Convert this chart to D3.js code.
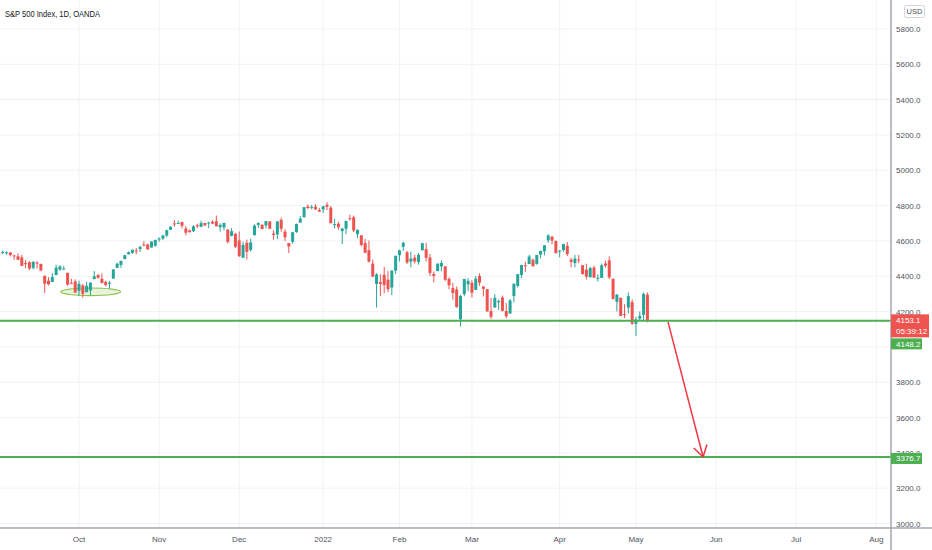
<!doctype html>
<html>

<head>
    <meta charset="UTF-8">
    <title>S&P 500 Index, 1D, OANDA</title>
    <script src="https://d3js.org/d3.v7.min.js"></script>
    <style>
        body {
            margin: 0;
            background: #fff;
        }

        svg {
            display: block;
            font-family: "Liberation Sans", Arial, sans-serif;
        }
    </style>
</head>

<body>
    <svg width="932" height="550"></svg>

    <script>
        // trading days, Sep 2021 - May 2022
        var dates = [
            "2021-09-01", "2021-09-02", "2021-09-03", "2021-09-07", "2021-09-08", "2021-09-09", "2021-09-10", "2021-09-13", "2021-09-14", "2021-09-15", "2021-09-16", "2021-09-17", "2021-09-20", "2021-09-21", "2021-09-22", "2021-09-23", "2021-09-24", "2021-09-27", "2021-09-28", "2021-09-29", "2021-09-30",
            "2021-10-01", "2021-10-04", "2021-10-05", "2021-10-06", "2021-10-07", "2021-10-08", "2021-10-11", "2021-10-12", "2021-10-13", "2021-10-14", "2021-10-15", "2021-10-18", "2021-10-19", "2021-10-20", "2021-10-21", "2021-10-22", "2021-10-25", "2021-10-26", "2021-10-27", "2021-10-28", "2021-10-29",
            "2021-11-01", "2021-11-02", "2021-11-03", "2021-11-04", "2021-11-05", "2021-11-08", "2021-11-09", "2021-11-10", "2021-11-11", "2021-11-12", "2021-11-15", "2021-11-16", "2021-11-17", "2021-11-18", "2021-11-19", "2021-11-22", "2021-11-23", "2021-11-24", "2021-11-26", "2021-11-29", "2021-11-30",
            "2021-12-01", "2021-12-02", "2021-12-03", "2021-12-06", "2021-12-07", "2021-12-08", "2021-12-09", "2021-12-10", "2021-12-13", "2021-12-14", "2021-12-15", "2021-12-16", "2021-12-17", "2021-12-20", "2021-12-21", "2021-12-22", "2021-12-23", "2021-12-27", "2021-12-28", "2021-12-29", "2021-12-30", "2021-12-31",
            "2022-01-03", "2022-01-04", "2022-01-05", "2022-01-06", "2022-01-07", "2022-01-10", "2022-01-11", "2022-01-12", "2022-01-13", "2022-01-14", "2022-01-18", "2022-01-19", "2022-01-20", "2022-01-21", "2022-01-24", "2022-01-25", "2022-01-26", "2022-01-27", "2022-01-28", "2022-01-31",
            "2022-02-01", "2022-02-02", "2022-02-03", "2022-02-04", "2022-02-07", "2022-02-08", "2022-02-09", "2022-02-10", "2022-02-11", "2022-02-14", "2022-02-15", "2022-02-16", "2022-02-17", "2022-02-18", "2022-02-22", "2022-02-23", "2022-02-24", "2022-02-25", "2022-02-28",
            "2022-03-01", "2022-03-02", "2022-03-03", "2022-03-04", "2022-03-07", "2022-03-08", "2022-03-09", "2022-03-10", "2022-03-11", "2022-03-14", "2022-03-15", "2022-03-16", "2022-03-17", "2022-03-18", "2022-03-21", "2022-03-22", "2022-03-23", "2022-03-24", "2022-03-25", "2022-03-28", "2022-03-29", "2022-03-30", "2022-03-31",
            "2022-04-01", "2022-04-04", "2022-04-05", "2022-04-06", "2022-04-07", "2022-04-08", "2022-04-11", "2022-04-12", "2022-04-13", "2022-04-14", "2022-04-18", "2022-04-19", "2022-04-20", "2022-04-21", "2022-04-22", "2022-04-25", "2022-04-26", "2022-04-27", "2022-04-28", "2022-04-29",
            "2022-05-02", "2022-05-03", "2022-05-04", "2022-05-05"
        ];

        var opens = [
            4528.8, 4534.5, 4532.4, 4535.4, 4518.1, 4513.0, 4506.9, 4474.8, 4479.3, 4447.5, 4477.1, 4469.7, 4402.9, 4375.2, 4367.4, 4406.8, 4438.0, 4442.1, 4419.5, 4362.4, 4370.7,
            4317.2, 4348.8, 4309.9, 4319.6, 4383.7, 4406.5, 4385.4, 4368.3, 4358.0, 4386.8, 4447.7, 4463.7, 4497.3, 4524.4, 4532.2, 4546.1, 4553.7, 4578.7, 4580.2, 4562.8, 4572.9,
            4610.6, 4613.3, 4630.7, 4662.9, 4699.3, 4701.5, 4707.3, 4670.3, 4659.4, 4655.2, 4689.3, 4679.4, 4701.5, 4700.7, 4708.4, 4712.0, 4678.5, 4675.8, 4664.6, 4628.8, 4640.3,
            4602.8, 4504.7, 4589.5, 4548.4, 4632.0, 4690.9, 4691.0, 4687.6, 4710.3, 4642.0, 4636.5, 4719.1, 4652.5, 4587.9, 4595.0, 4650.4, 4704.0, 4734.0, 4795.5, 4788.6, 4794.2, 4775.2,
            4778.1, 4804.5, 4788.0, 4693.4, 4697.7, 4655.3, 4669.1, 4728.6, 4733.6, 4638.0, 4632.2, 4588.0, 4547.4, 4471.4, 4356.3, 4366.6, 4408.4, 4380.6, 4336.2, 4431.8,
            4519.6, 4566.4, 4535.4, 4482.8, 4505.8, 4480.0, 4547.0, 4553.2, 4506.3, 4412.6, 4429.3, 4455.8, 4456.1, 4384.6, 4332.7, 4324.9, 4155.8, 4298.4, 4354.2,
            4363.1, 4322.6, 4401.3, 4342.1, 4327.0, 4202.7, 4223.1, 4252.6, 4279.5, 4202.8, 4188.8, 4288.1, 4345.1, 4407.3, 4462.4, 4469.1, 4493.1, 4470.0, 4522.9, 4541.1, 4602.9, 4624.2, 4599.0,
            4540.3, 4548.0, 4572.5, 4494.2, 4474.7, 4494.2, 4462.6, 4437.6, 4394.3, 4449.1, 4385.6, 4390.6, 4472.3, 4489.2, 4385.8, 4255.3, 4278.1, 4186.5, 4222.6, 4253.8,
            4130.6, 4159.8, 4181.2, 4296.0
        ];

        var highs = [
            4537.1, 4545.9, 4541.5, 4535.4, 4521.8, 4529.9, 4520.5, 4492.0, 4485.7, 4486.9, 4485.9, 4471.5, 4402.9, 4394.9, 4416.8, 4465.4, 4463.1, 4457.3, 4419.5, 4385.6, 4382.6,
            4375.2, 4355.5, 4369.2, 4365.6, 4429.0, 4412.0, 4415.9, 4374.9, 4372.9, 4439.7, 4475.8, 4488.8, 4520.4, 4540.9, 4551.4, 4559.7, 4572.6, 4598.5, 4584.6, 4597.6, 4608.1,
            4620.3, 4635.2, 4663.5, 4683.0, 4718.5, 4714.9, 4708.5, 4684.9, 4664.6, 4688.5, 4697.4, 4714.9, 4701.5, 4708.8, 4717.8, 4743.8, 4699.4, 4702.9, 4664.6, 4672.9, 4646.0,
            4652.9, 4595.5, 4608.0, 4612.6, 4694.0, 4705.1, 4695.3, 4713.6, 4710.3, 4660.5, 4712.6, 4732.0, 4666.7, 4587.9, 4651.1, 4697.7, 4740.7, 4791.5, 4807.0, 4804.1, 4808.9, 4787.0,
            4796.6, 4818.6, 4797.7, 4725.0, 4708.0, 4673.0, 4714.1, 4749.0, 4744.1, 4665.1, 4632.2, 4611.6, 4602.1, 4494.5, 4417.4, 4411.0, 4453.2, 4428.7, 4432.7, 4516.9,
            4550.5, 4595.3, 4542.9, 4539.7, 4521.9, 4531.3, 4590.0, 4588.9, 4526.3, 4426.2, 4472.8, 4489.6, 4456.1, 4394.6, 4362.1, 4341.5, 4294.7, 4385.3, 4388.8,
            4378.5, 4401.5, 4416.8, 4342.1, 4327.0, 4276.9, 4299.4, 4268.3, 4291.0, 4247.6, 4271.1, 4358.0, 4412.7, 4465.4, 4481.8, 4522.0, 4501.1, 4520.6, 4546.0, 4575.6, 4637.3, 4627.8, 4603.1,
            4548.7, 4583.5, 4593.5, 4503.9, 4521.2, 4520.4, 4464.3, 4471.0, 4453.9, 4460.5, 4410.3, 4471.0, 4488.3, 4512.9, 4385.8, 4299.0, 4278.1, 4240.7, 4308.5, 4269.7,
            4169.8, 4200.1, 4307.7, 4308.0
        ];

        var lows = [
            4522.0, 4524.7, 4521.9, 4513.0, 4493.9, 4492.1, 4457.7, 4445.7, 4435.5, 4438.4, 4443.8, 4427.8, 4305.9, 4347.9, 4367.4, 4406.8, 4430.3, 4436.2, 4346.3, 4355.1, 4306.2,
            4288.5, 4278.9, 4309.9, 4290.5, 4383.7, 4386.2, 4360.6, 4342.1, 4329.9, 4386.8, 4447.7, 4447.5, 4496.4, 4524.4, 4526.9, 4524.0, 4537.4, 4569.2, 4551.7, 4562.8, 4567.6,
            4595.1, 4604.0, 4621.2, 4662.6, 4681.3, 4694.4, 4670.9, 4630.9, 4648.3, 4650.4, 4672.9, 4679.4, 4684.4, 4672.8, 4694.2, 4682.2, 4652.7, 4659.9, 4585.4, 4625.3, 4560.0,
            4510.3, 4504.7, 4495.1, 4540.5, 4632.0, 4674.5, 4666.0, 4670.2, 4667.6, 4606.5, 4611.2, 4651.9, 4600.2, 4531.1, 4583.2, 4645.5, 4704.0, 4734.0, 4780.0, 4778.1, 4775.3, 4765.3,
            4758.2, 4774.3, 4699.4, 4671.3, 4662.7, 4582.2, 4638.3, 4716.1, 4650.3, 4614.8, 4568.7, 4530.2, 4478.0, 4395.3, 4222.6, 4287.1, 4304.8, 4309.5, 4292.5, 4414.0,
            4483.5, 4544.3, 4470.4, 4451.5, 4471.5, 4465.4, 4547.0, 4484.3, 4401.4, 4364.8, 4429.3, 4429.7, 4373.8, 4327.2, 4267.1, 4221.5, 4114.7, 4286.8, 4315.1,
            4279.5, 4322.6, 4345.6, 4285.0, 4199.9, 4157.9, 4223.1, 4209.8, 4200.5, 4161.7, 4187.9, 4252.0, 4335.7, 4390.6, 4424.3, 4469.1, 4455.8, 4465.2, 4501.1, 4517.7, 4589.7, 4581.3, 4530.4,
            4507.6, 4539.2, 4514.2, 4450.0, 4450.3, 4474.6, 4408.4, 4381.3, 4392.7, 4390.8, 4370.3, 4390.6, 4448.8, 4384.5, 4267.6, 4200.8, 4175.0, 4162.9, 4188.6, 4124.3,
            4062.5, 4147.1, 4148.9, 4139.0
        ];

        var closes = [
            4524.1, 4537.0, 4535.4, 4520.0, 4514.1, 4493.3, 4458.6, 4468.7, 4443.1, 4480.7, 4473.8, 4433.0, 4357.7, 4354.2, 4395.6, 4449.0, 4455.5, 4443.1, 4352.6, 4359.5, 4307.5,
            4357.0, 4300.5, 4345.7, 4363.6, 4399.8, 4391.3, 4361.2, 4350.7, 4363.8, 4438.3, 4471.4, 4486.5, 4519.6, 4536.2, 4549.8, 4544.9, 4566.5, 4574.8, 4551.7, 4596.4, 4605.4,
            4613.7, 4630.7, 4660.6, 4680.1, 4697.5, 4701.7, 4685.3, 4646.7, 4649.3, 4682.9, 4682.8, 4700.9, 4688.7, 4704.5, 4698.0, 4682.9, 4690.7, 4701.5, 4594.6, 4655.3, 4567.0,
            4513.0, 4577.1, 4538.4, 4591.7, 4686.8, 4701.2, 4667.5, 4712.0, 4669.0, 4634.1, 4709.9, 4668.7, 4620.6, 4568.0, 4649.2, 4696.6, 4725.8, 4791.2, 4786.4, 4793.1, 4778.7, 4766.2,
            4796.6, 4793.5, 4700.6, 4696.1, 4677.0, 4670.3, 4713.1, 4726.4, 4659.0, 4662.9, 4577.1, 4532.8, 4482.7, 4397.9, 4410.1, 4356.5, 4349.9, 4326.5, 4431.9, 4515.6,
            4546.5, 4589.4, 4477.4, 4500.5, 4483.9, 4521.5, 4587.2, 4504.1, 4418.6, 4401.7, 4471.1, 4475.0, 4380.3, 4348.9, 4304.8, 4225.5, 4288.7, 4384.7, 4373.9,
            4306.3, 4386.5, 4363.5, 4328.9, 4201.1, 4170.7, 4277.9, 4259.5, 4204.3, 4173.1, 4262.5, 4357.9, 4411.7, 4463.1, 4461.2, 4511.6, 4456.2, 4520.2, 4543.1, 4575.5, 4631.6, 4602.5, 4530.4,
            4545.9, 4582.6, 4525.1, 4481.2, 4500.2, 4488.3, 4412.5, 4397.5, 4446.6, 4392.6, 4391.7, 4462.2, 4459.5, 4393.7, 4271.8, 4296.1, 4175.2, 4184.0, 4287.5, 4131.9,
            4155.4, 4175.5, 4300.2, 4153.1
        ];

        // time axis: month labels and the bar index where each month starts
        var tickLabels = ["Oct", "Nov", "Dec", "2022", "Feb", "Mar", "Apr", "May", "Jun", "Jul", "Aug"];
        var tickIndex = [21, 42, 63, 85, 105, 124, 147, 167, 188, 209, 230];

        // price axis (4000.0 is hidden behind the level badge, as in the original)
        var priceTicks = [3000, 3200, 3400, 3600, 3800, 4000, 4200, 4400, 4600, 4800, 5000, 5200, 5400, 5600, 5800];
        var hiddenTicks = [4000];

        // drawn levels and annotations
        var levels = [4148.2, 3376.7];
        var lastPrice = 4153.1;
        var countdown = "05:39:12";
        var arrowFrom = [175.4, 4142];
        var arrowTo = [184.6, 3376.7];
        var ellipseIdx = [16.2, 31.9];
        var ellipsePrice = 4312;

        var W = 932,
            H = 550,
            axisX = 891,
            axisY = 528;

        var x = d3.scaleLinear().domain([0, 230]).range([-1.1, 876.3]);
        var y = d3.scaleLinear().domain([3000, 5800]).range([523.5, 29]);
        var fmt = d3.format(".1f");

        var up = "#26a69a",
            down = "#ef5350",
            green = "#4caf50";

        var svg = d3.select("svg");

        // grid
        var grid = svg.append("g");
        grid.selectAll("line.h")
            .data(priceTicks)
            .enter().append("line")
            .attr("x1", 0).attr("x2", axisX)
            .attr("y1", function(d) { return y(d); })
            .attr("y2", function(d) { return y(d); })
            .attr("stroke", "#eff2f7").attr("stroke-width", 1);
        grid.selectAll("line.v")
            .data(tickIndex)
            .enter().append("line")
            .attr("y1", 0).attr("y2", axisY)
            .attr("x1", function(d) { return x(d); })
            .attr("x2", function(d) { return x(d); })
            .attr("stroke", "#eff2f7").attr("stroke-width", 1);

        // title
        svg.append("text")
            .attr("x", 5).attr("y", 16.5)
            .attr("font-size", "9px")
            .attr("fill", "#131722")
            .attr("textLength", 95)
            .attr("lengthAdjust", "spacingAndGlyphs")
            .text("S&P 500 Index, 1D, OANDA");

        // ellipse around October lows
        svg.append("ellipse")
            .attr("cx", (x(ellipseIdx[0]) + x(ellipseIdx[1])) / 2)
            .attr("cy", y(ellipsePrice))
            .attr("rx", (x(ellipseIdx[1]) - x(ellipseIdx[0])) / 2)
            .attr("ry", 3.8)
            .attr("fill", "rgba(139,195,74,0.2)")
            .attr("stroke", "#8bc34a")
            .attr("stroke-width", 1.2);

        // candles
        var bars = svg.append("g").selectAll("g")
            .data(closes)
            .enter().append("g");

        bars.append("line")
            .attr("x1", function(d, i) { return x(i); })
            .attr("x2", function(d, i) { return x(i); })
            .attr("y1", function(d, i) { return y(highs[i]); })
            .attr("y2", function(d, i) { return y(lows[i]); })
            .attr("stroke", function(d, i) { return d >= opens[i] ? up : down; })
            .attr("stroke-width", 1);

        bars.append("rect")
            .attr("x", function(d, i) { return x(i) - 1.5; })
            .attr("width", 3)
            .attr("y", function(d, i) { return y(Math.max(d, opens[i])); })
            .attr("height", function(d, i) { return Math.max(1, Math.abs(y(d) - y(opens[i]))); })
            .attr("fill", function(d, i) { return d >= opens[i] ? up : down; });

        // horizontal levels
        svg.selectAll("line.level")
            .data(levels)
            .enter().append("line")
            .attr("x1", 0).attr("x2", axisX)
            .attr("y1", function(d) { return y(d); })
            .attr("y2", function(d) { return y(d); })
            .attr("stroke", green).attr("stroke-width", 2);

        // arrow
        var ax1 = x(arrowFrom[0]),
            ay1 = y(arrowFrom[1]),
            ax2 = x(arrowTo[0]),
            ay2 = y(arrowTo[1]);
        var ang = Math.atan2(ay1 - ay2, ax1 - ax2);
        var arrow = svg.append("g").attr("stroke", "#f23645").attr("stroke-width", 1.5).attr("fill", "none");
        arrow.append("line").attr("x1", ax1).attr("y1", ay1).attr("x2", ax2).attr("y2", ay2);
        [-0.55, 0.55].forEach(function(a) {
            arrow.append("line")
                .attr("x1", ax2).attr("y1", ay2)
                .attr("x2", ax2 + 13 * Math.cos(ang + a))
                .attr("y2", ay2 + 13 * Math.sin(ang + a));
        });

        // axes frame
        svg.append("rect").attr("x", axisX).attr("y", 0).attr("width", W - axisX).attr("height", H).attr("fill", "#fff");
        svg.append("rect").attr("x", 0).attr("y", axisY).attr("width", axisX).attr("height", H - axisY).attr("fill", "#fff");
        svg.append("line").attr("x1", axisX).attr("x2", axisX).attr("y1", 0).attr("y2", H)
            .attr("stroke", "#a3a6af").attr("stroke-width", 1.5);
        svg.append("line").attr("x1", 0).attr("x2", W).attr("y1", axisY).attr("y2", axisY)
            .attr("stroke", "#a3a6af").attr("stroke-width", 1.5);

        // price labels
        svg.append("g").selectAll("text")
            .data(priceTicks.filter(function(d) { return hiddenTicks.indexOf(d) < 0; }))
            .enter().append("text")
            .attr("x", 896)
            .attr("y", function(d) { return y(d) + 3; })
            .attr("font-size", "8px")
            .attr("fill", "#50535e")
            .text(function(d) { return fmt(d); });

        // month labels
        svg.append("g").selectAll("text")
            .data(tickLabels)
            .enter().append("text")
            .attr("x", function(d, i) { return x(tickIndex[i]); })
            .attr("y", 542)
            .attr("text-anchor", "middle")
            .attr("font-size", "8px")
            .attr("fill", "#50535e")
            .text(function(d) { return d; });

        // USD badge
        svg.append("rect").attr("x", 904.5).attr("y", 5.5).attr("width", 20).attr("height", 12).attr("rx", 2)
            .attr("fill", "#fff").attr("stroke", "#d1d4dc");
        svg.append("text").attr("x", 914.5).attr("y", 14.2).attr("text-anchor", "middle")
            .attr("font-size", "7.5px").attr("fill", "#50535e").text("USD");

        // last price label
        var ly = y(lastPrice);
        svg.append("rect").attr("x", axisX).attr("y", ly - 5.5).attr("width", 38).attr("height", 23).attr("fill", down);
        svg.append("text").attr("x", 896).attr("y", ly + 3).attr("font-size", "8px").attr("fill", "#fff").text(fmt(lastPrice));
        svg.append("text").attr("x", 896).attr("y", ly + 14).attr("font-size", "8px").attr("fill", "#fff").text(countdown);

        // level labels
        var levelY = [ly + 24, y(levels[1]) + 1.5];
        levels.forEach(function(d, i) {
            svg.append("rect").attr("x", axisX).attr("y", levelY[i] - 5.5).attr("width", 31).attr("height", 11).attr("fill", green);
            svg.append("text").attr("x", 896).attr("y", levelY[i] + 3).attr("font-size", "8px").attr("fill", "#fff").text(fmt(d));
        });
    </script>
</body>

</html>
